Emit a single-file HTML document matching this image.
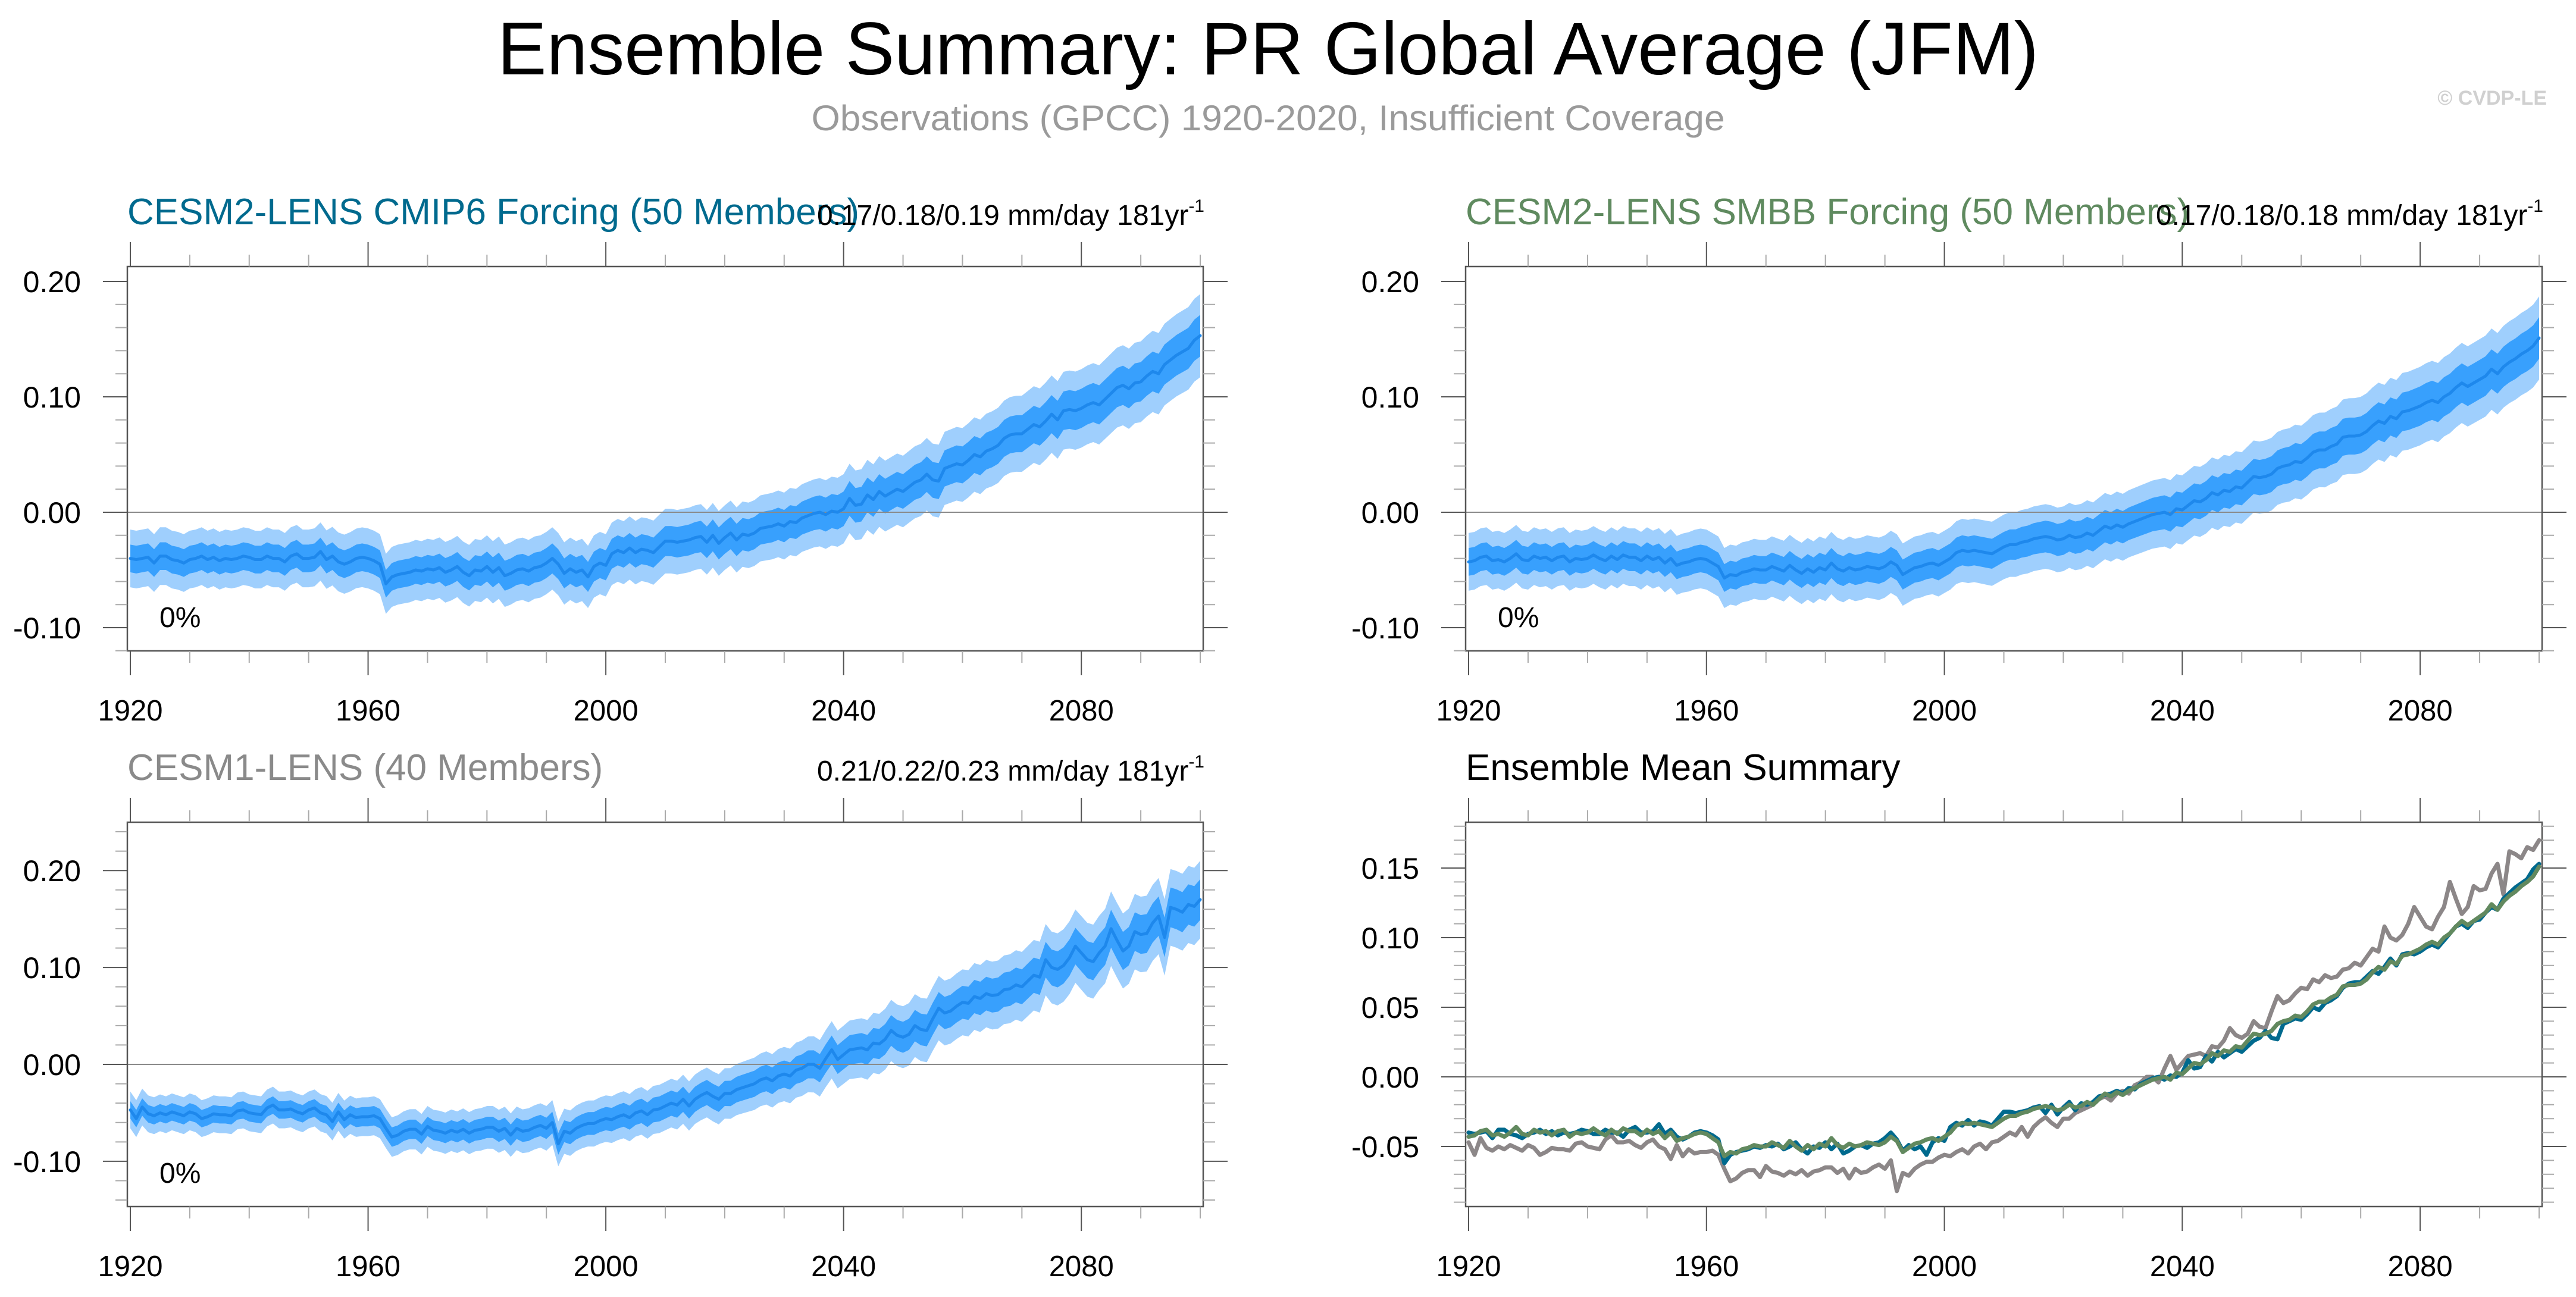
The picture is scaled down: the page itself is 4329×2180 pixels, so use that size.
<!DOCTYPE html>
<html><head><meta charset="utf-8"><style>
html,body{margin:0;padding:0;background:#fff;}
svg{display:block;font-family:"Liberation Sans",Arial,sans-serif;}
</style></head><body>
<svg id="chart" width="4329" height="2180" viewBox="0 0 4329 2180" xmlns="http://www.w3.org/2000/svg">
<text x="2131" y="125" font-size="125" text-anchor="middle" textLength="2590" lengthAdjust="spacingAndGlyphs">Ensemble Summary: PR Global Average (JFM)</text>
<text x="2131" y="219" font-size="60" fill="#9a9a9a" text-anchor="middle" textLength="1535" lengthAdjust="spacingAndGlyphs">Observations (GPCC) 1920-2020, Insufficient Coverage</text>
<text x="4280" y="176" font-size="34" font-weight="bold" fill="#d0d0d0" text-anchor="end">© CVDP-LE</text>
<g id="plots"></g>
</svg>
<script>
const years0 = 1920;
const cmip6Mean = [
-0.040,-0.041,-0.040,-0.039,-0.044,-0.038,-0.038,-0.041,-0.042,-0.044,
-0.041,-0.040,-0.038,-0.041,-0.039,-0.042,-0.040,-0.041,-0.040,-0.038,
-0.039,-0.041,-0.041,-0.038,-0.040,-0.040,-0.043,-0.038,-0.036,-0.040,
-0.040,-0.039,-0.034,-0.041,-0.038,-0.043,-0.045,-0.043,-0.040,-0.039,
-0.040,-0.042,-0.045,-0.062,-0.056,-0.054,-0.053,-0.052,-0.050,-0.051,
-0.049,-0.050,-0.048,-0.052,-0.050,-0.047,-0.052,-0.055,-0.050,-0.051,
-0.047,-0.052,-0.048,-0.055,-0.053,-0.050,-0.049,-0.051,-0.048,-0.047,
-0.044,-0.040,-0.045,-0.053,-0.049,-0.052,-0.050,-0.056,-0.047,-0.044,
-0.046,-0.036,-0.033,-0.035,-0.031,-0.035,-0.032,-0.033,-0.035,-0.030,
-0.025,-0.025,-0.026,-0.025,-0.024,-0.022,-0.021,-0.026,-0.020,-0.027,
-0.022,-0.018,-0.024,-0.019,-0.020,-0.018,-0.014,-0.013,-0.012,-0.010,
-0.012,-0.008,-0.009,-0.005,-0.003,-0.001,0.000,-0.002,0.001,0.000,
0.003,0.012,0.006,0.007,0.015,0.011,0.018,0.014,0.017,0.020,
0.018,0.022,0.026,0.028,0.033,0.028,0.027,0.038,0.040,0.042,
0.041,0.045,0.050,0.048,0.053,0.055,0.058,0.064,0.067,0.068,
0.068,0.072,0.076,0.074,0.079,0.085,0.080,0.088,0.089,0.088,
0.090,0.093,0.095,0.093,0.098,0.103,0.108,0.110,0.107,0.112,
0.113,0.118,0.122,0.120,0.128,0.132,0.136,0.139,0.142,0.149,
0.153];
const smbbMean = [
-0.043,-0.042,-0.039,-0.038,-0.042,-0.041,-0.043,-0.040,-0.036,-0.041,
-0.042,-0.038,-0.040,-0.039,-0.042,-0.039,-0.038,-0.043,-0.040,-0.041,
-0.040,-0.037,-0.040,-0.042,-0.038,-0.041,-0.037,-0.039,-0.039,-0.042,
-0.038,-0.041,-0.039,-0.044,-0.040,-0.046,-0.044,-0.043,-0.041,-0.040,
-0.041,-0.044,-0.047,-0.057,-0.054,-0.055,-0.052,-0.051,-0.049,-0.050,
-0.050,-0.047,-0.049,-0.051,-0.046,-0.050,-0.053,-0.049,-0.052,-0.048,
-0.050,-0.044,-0.049,-0.051,-0.048,-0.050,-0.049,-0.047,-0.048,-0.049,
-0.047,-0.043,-0.046,-0.054,-0.051,-0.048,-0.047,-0.045,-0.044,-0.046,
-0.043,-0.040,-0.035,-0.033,-0.034,-0.033,-0.034,-0.035,-0.036,-0.033,
-0.030,-0.028,-0.028,-0.026,-0.025,-0.023,-0.022,-0.021,-0.022,-0.024,
-0.023,-0.020,-0.022,-0.021,-0.018,-0.020,-0.016,-0.012,-0.014,-0.011,
-0.013,-0.010,-0.008,-0.006,-0.004,-0.002,-0.001,0.000,-0.002,0.003,
0.002,0.006,0.010,0.009,0.012,0.017,0.015,0.019,0.018,0.022,
0.021,0.026,0.031,0.030,0.031,0.033,0.038,0.040,0.041,0.044,
0.043,0.047,0.052,0.054,0.054,0.057,0.059,0.065,0.066,0.066,
0.067,0.070,0.075,0.079,0.077,0.083,0.081,0.087,0.088,0.090,
0.092,0.095,0.097,0.095,0.100,0.103,0.108,0.112,0.109,0.112,
0.115,0.118,0.124,0.120,0.126,0.130,0.133,0.137,0.140,0.144,
0.151];
const cesm1Mean = [
-0.047,-0.056,-0.044,-0.051,-0.053,-0.050,-0.052,-0.049,-0.051,-0.053,
-0.049,-0.051,-0.056,-0.054,-0.051,-0.052,-0.052,-0.053,-0.048,-0.047,
-0.050,-0.051,-0.052,-0.045,-0.042,-0.047,-0.047,-0.046,-0.049,-0.051,
-0.047,-0.045,-0.050,-0.052,-0.059,-0.049,-0.057,-0.052,-0.055,-0.054,
-0.054,-0.053,-0.056,-0.066,-0.075,-0.073,-0.069,-0.067,-0.067,-0.072,
-0.064,-0.068,-0.069,-0.071,-0.068,-0.070,-0.067,-0.071,-0.068,-0.067,
-0.065,-0.065,-0.069,-0.066,-0.073,-0.066,-0.069,-0.068,-0.065,-0.063,
-0.066,-0.060,-0.082,-0.069,-0.071,-0.066,-0.063,-0.061,-0.061,-0.058,
-0.056,-0.057,-0.054,-0.052,-0.055,-0.050,-0.048,-0.052,-0.047,-0.046,
-0.043,-0.040,-0.042,-0.036,-0.043,-0.036,-0.032,-0.029,-0.033,-0.036,
-0.030,-0.030,-0.026,-0.024,-0.022,-0.020,-0.016,-0.014,-0.017,-0.012,
-0.010,-0.012,-0.006,-0.004,0.000,0.000,-0.004,0.006,0.015,0.005,
0.010,0.015,0.016,0.017,0.015,0.022,0.021,0.026,0.035,0.030,
0.028,0.031,0.040,0.036,0.035,0.047,0.058,0.053,0.055,0.060,
0.064,0.063,0.070,0.068,0.073,0.071,0.072,0.077,0.078,0.082,
0.080,0.086,0.092,0.090,0.108,0.100,0.098,0.102,0.110,0.122,
0.115,0.108,0.106,0.115,0.122,0.140,0.128,0.117,0.122,0.137,
0.134,0.135,0.146,0.153,0.131,0.162,0.160,0.157,0.165,0.163,
0.170];
// band half-widths, one per decade 1920..2100
const cmip6Inner = [0.012,0.012,0.012,0.012,0.012,0.012,0.013,0.013,0.013,0.013,0.014,0.014,0.015,0.015,0.016,0.016,0.017,0.017,0.018];
const cmip6Outer = [0.025,0.025,0.025,0.025,0.026,0.026,0.027,0.027,0.027,0.028,0.028,0.029,0.030,0.031,0.032,0.033,0.034,0.035,0.036];
const cesm1Inner = [0.009,0.009,0.009,0.009,0.010,0.010,0.011,0.011,0.012,0.013,0.013,0.014,0.015,0.016,0.017,0.018,0.019,0.020,0.021];
const cesm1Outer = [0.019,0.019,0.019,0.019,0.020,0.021,0.022,0.023,0.024,0.025,0.026,0.028,0.030,0.032,0.034,0.036,0.038,0.039,0.040];
const xTicks = [1920,1960,2000,2040,2080];
const yTicksTop = [0.20,0.10,0.00,-0.10];
const yTicksTopLbl = ["0.20","0.10","0.00","-0.10"];
const yTicksSum = [0.15,0.10,0.05,0.00,-0.05];
const yTicksSumLbl = ["0.15","0.10","0.05","0.00","-0.05"];

const NS="http://www.w3.org/2000/svg";
const root=document.getElementById('plots');
function mk(tag,attrs,parent){const e=document.createElementNS(NS,tag);for(const k in attrs)e.setAttribute(k,attrs[k]);(parent||root).appendChild(e);return e;}
function spreadAt(arr,i){const d=i/10;const a=Math.floor(d),b=Math.min(a+1,arr.length-1);const t=d-a;return arr[a]*(1-t)+arr[b]*t;}

function panel(p){
  const g=mk('g',{});
  
  
  const xs=yr=>p.x0+5+(yr-years0)*(p.x1-p.x0-10)/180;
  const ys=v=>p.zeroY-v*p.yScale;
  if(p.bands){
    p.bands.forEach(b=>{
      let up=[],lo=[];
      p.mean.forEach((v,i)=>{const s=spreadAt(b.arr,i);up.push(xs(years0+i)+','+ys(v+s));lo.unshift(xs(years0+i)+','+ys(v-s));});
      const poly=mk('polygon',{points:up.concat(lo).join(' '),fill:b.color},g);
      
      
    });
  }
  const zl=mk('line',{x1:p.x0,x2:p.x1,y1:ys(0),y2:ys(0),stroke:'#8a8a8a','stroke-width':2},g);
  
  
  p.lines.forEach(l=>{
    const pts=l.data.map((v,i)=>xs(years0+i)+','+ys(v)).join(' ');
    const pl=mk('polyline',{points:pts,fill:'none',stroke:l.color,'stroke-width':l.w,'stroke-linejoin':'round','stroke-linecap':'round'},g);
    
    
  });
  const fr=mk('rect',{x:p.x0,y:p.y0,width:p.x1-p.x0,height:p.y1-p.y0,fill:'none',stroke:'#555','stroke-width':2.5},g);
  
  
  for(let yr=1920;yr<=2100;yr+=10){
    const major=(yr-1920)%40===0;const L=major?41:20;const x=xs(yr);
    mk('line',{x1:x,x2:x,y1:p.y0-L,y2:p.y0,stroke:major?'#555':'#aaa','stroke-width':2},g);
    mk('line',{x1:x,x2:x,y1:p.y1,y2:p.y1+L,stroke:major?'#555':'#aaa','stroke-width':2},g);
  }
  xTicks.forEach(yr=>{
    const t=mk('text',{x:xs(yr),y:p.y1+117,'font-size':49,'text-anchor':'middle'},g);
    t.textContent=yr;
    
    
  });
  for(let k=Math.ceil(p.vmin/p.minor-1e-6);k*p.minor<=p.vmax+1e-9;k++){
    const v=k*p.minor;const major=Math.abs(Math.round(v/p.major)*p.major-v)<1e-6;const L=major?41:20;const y=ys(v);
    if(y<p.y0-1||y>p.y1+1)continue;
    mk('line',{x1:p.x0-L,x2:p.x0,y1:y,y2:y,stroke:major?'#555':'#aaa','stroke-width':2},g);
    mk('line',{x1:p.x1,x2:p.x1+L,y1:y,y2:y,stroke:major?'#555':'#aaa','stroke-width':2},g);
  }
  p.yt.forEach((v,i)=>{
    const t=mk('text',{x:p.x0-78,y:ys(v)+18,'font-size':50,'text-anchor':'end'},g);
    t.textContent=p.ytl[i];
    
    
  });
  const tt=mk('text',{x:p.x0,y:p.y0-71,'font-size':62,fill:p.titleColor},g);
  tt.textContent=p.title;
  
  
  if(p.rtext){
    const rt=mk('text',{x:p.x1+2,y:p.y0-70,'font-size':48,'text-anchor':'end'},g);
    
    
    const a=mk('tspan',{},rt);a.textContent=p.rtext;
    const s=mk('tspan',{dy:-22,'font-size':30},rt);s.textContent='-1';
  }
  if(p.pct){
    const pt=mk('text',{x:p.x0+54,y:p.y1-40,'font-size':48},g);
    pt.textContent='0%';
    
    
  }
}
const OUT='#9fcffd',IN='#38a0fd',ML='#1e88ec';
panel({name:'panel-cesm2-cmip6',x0:214,x1:2022,y0:448,y1:1094,zeroY:861,yScale:1940,vmin:-0.13,vmax:0.22,minor:0.02,major:0.1,yt:yTicksTop,ytl:yTicksTopLbl,
  mean:cmip6Mean,bands:[{arr:cmip6Outer,color:OUT,name:'outer-spread-band'},{arr:cmip6Inner,color:IN,name:'inner-spread-band'}],
  lines:[{data:cmip6Mean,color:ML,w:5,name:'ensemble-mean-line'}],title:'CESM2-LENS CMIP6 Forcing (50 Members)',titleColor:'#006a8e',rtext:'0.17/0.18/0.19 mm/day 181yr',pct:true});
panel({name:'panel-cesm2-smbb',x0:2463,x1:4272,y0:448,y1:1094,zeroY:861,yScale:1940,vmin:-0.13,vmax:0.22,minor:0.02,major:0.1,yt:yTicksTop,ytl:yTicksTopLbl,
  mean:smbbMean,bands:[{arr:cmip6Outer,color:OUT,name:'outer-spread-band'},{arr:cmip6Inner,color:IN,name:'inner-spread-band'}],
  lines:[{data:smbbMean,color:ML,w:5,name:'ensemble-mean-line'}],title:'CESM2-LENS SMBB Forcing (50 Members)',titleColor:'#5f8a5f',rtext:'0.17/0.18/0.18 mm/day 181yr',pct:true});
panel({name:'panel-cesm1',x0:214,x1:2022,y0:1382,y1:2028,zeroY:1789,yScale:1629,vmin:-0.16,vmax:0.25,minor:0.02,major:0.1,yt:yTicksTop,ytl:yTicksTopLbl,
  mean:cesm1Mean,bands:[{arr:cesm1Outer,color:OUT,name:'outer-spread-band'},{arr:cesm1Inner,color:IN,name:'inner-spread-band'}],
  lines:[{data:cesm1Mean,color:ML,w:5,name:'ensemble-mean-line'}],title:'CESM1-LENS (40 Members)',titleColor:'#8a8a8a',rtext:'0.21/0.22/0.23 mm/day 181yr',pct:true});
panel({name:'panel-ensemble-mean-summary',x0:2463,x1:4272,y0:1382,y1:2028,zeroY:1810,yScale:2340,vmin:-0.1,vmax:0.19,minor:0.01,major:0.05,yt:yTicksSum,ytl:yTicksSumLbl,
  mean:cmip6Mean,bands:null,
  lines:[{data:cesm1Mean,color:'#8c8788',w:7,name:'cesm1-mean-line'},{data:cmip6Mean,color:'#006a8e',w:7,name:'cmip6-mean-line'},{data:smbbMean,color:'#62895f',w:7,name:'smbb-mean-line'}],
  title:'Ensemble Mean Summary',titleColor:'#000',rtext:null,pct:false});
</script>
</body></html>
